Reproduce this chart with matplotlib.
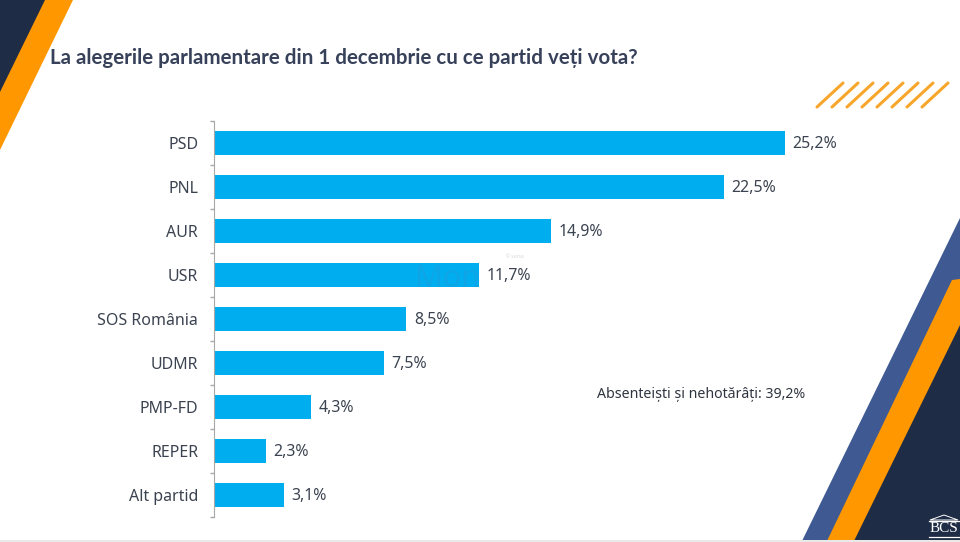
"""La alegerile parlamentare: horizontal bars on a slide background."""

import matplotlib

matplotlib.use("Agg")
import matplotlib.pyplot as plt  # noqa: E402
from matplotlib.patches import Polygon, Rectangle  # noqa: E402

parties = ["PSD", "PNL", "AUR", "USR", "SOS România", "UDMR", "PMP-FD", "REPER", "Alt partid"]
values = [25.2, 22.5, 14.9, 11.7, 8.5, 7.5, 4.3, 2.3, 3.1]
value_labels = ["25,2%", "22,5%", "14,9%", "11,7%", "8,5%", "7,5%", "4,3%", "2,3%", "3,1%"]

title = "La alegerile parlamentare din 1 decembrie cu ce partid veți vota?"
note = "Absenteiști și nehotărâți: 39,2%"

NAVY = "#1f2c45"
ORANGE = "#ff9800"
BLUE = "#3f5a92"
BAR = "#00aeef"
TEXT = "#3b4350"

W, H = 960, 542

plt.rcParams["font.family"] = ["Noto Sans", "DejaVu Sans"]

fig = plt.figure(figsize=(W / 100, H / 100), dpi=100)

# background layer in pixel coordinates
bg = fig.add_axes([0, 0, 1, 1])
bg.set_xlim(0, W)
bg.set_ylim(H, 0)
bg.axis("off")

bg.add_patch(Polygon([(0, 0), (73, 0), (0, 150)], color=ORANGE, lw=0))
bg.add_patch(Polygon([(0, 0), (45, 0), (0, 92)], color=NAVY, lw=0))
bg.add_patch(Polygon([(802, 541), (960, 218), (960, 541)], color=BLUE, lw=0))
bg.add_patch(Polygon([(827, 541), (952, 280), (960, 279), (960, 541)], color=ORANGE, lw=0))
bg.add_patch(Polygon([(854, 541), (960, 325), (960, 541)], color=NAVY, lw=0))
bg.add_patch(Rectangle((0, 540), W, 2, color="#e9e9ea", lw=0))

for i in range(8):
    x0 = 817 + 15 * i
    bg.plot([x0, x0 + 26], [107, 83], color="#f7a62b", lw=2.2, solid_capstyle="round")

bg.text(50, 57.5, title, fontsize=14.8, fontweight="bold", family="Lato",
        color="#37415a", va="center", ha="left")
bg.text(597, 394.5, note, fontsize=10.2, color="#2f3540", va="center", ha="left")
bg.text(515, 257, "© sursa", fontsize=3.5, color="#d4d6da", va="center", ha="center")

# BCS logo
bg.add_patch(Polygon([(930, 520), (944, 515), (958, 520)], fc="none", ec="white", lw=0.7))
bg.text(944, 528.5, "BCS", fontsize=11, family="Liberation Serif", color="white",
        va="center", ha="center")
bg.plot([929, 959], [537, 537], color="white", lw=0.9)
bg.plot([929, 959], [520.5, 520.5], color="white", lw=0.9)

# chart, axes box follows the bar area
left, right, top, bottom = 213.5, 213.5 + 22.68 * 30, 121, 517
ax = fig.add_axes([left / W, 1 - bottom / H, (right - left) / W, (bottom - top) / H])
ax.patch.set_alpha(0)

positions = list(range(len(parties)))
bars = ax.barh(positions, values, height=0.56, color=BAR)
ax.set_xlim(0, 30)
ax.set_ylim(len(parties) - 0.5, -0.5)

for pos, val, lab in zip(positions, values, value_labels):
    ax.annotate(lab, (val, pos), xytext=(5.4, -0.8), textcoords="offset points",
                fontsize=11.4, color=TEXT, va="center", ha="left")

ax.set_yticks(positions, parties, fontsize=11.5, color=TEXT)
ax.set_yticks([p - 0.5 for p in positions] + [len(parties) - 0.5], minor=True)
ax.tick_params(axis="y", which="major", length=0, pad=11)
ax.tick_params(axis="y", which="minor", length=3, width=1, color="#a8a8a8")
ax.set_xticks([])
for side in ["top", "right", "bottom"]:
    ax.spines[side].set_visible(False)
ax.spines["left"].set_color("#a8a8a8")

# faint watermark, only visible over the USR bar
mark = ax.text(8.9, 3.08, "Mon", fontsize=22, fontweight="bold", color="#12a3e4", alpha=0.8,
               va="center", ha="left")
mark.set_clip_path(bars[3])

fig.savefig("out.png", dpi=100)
